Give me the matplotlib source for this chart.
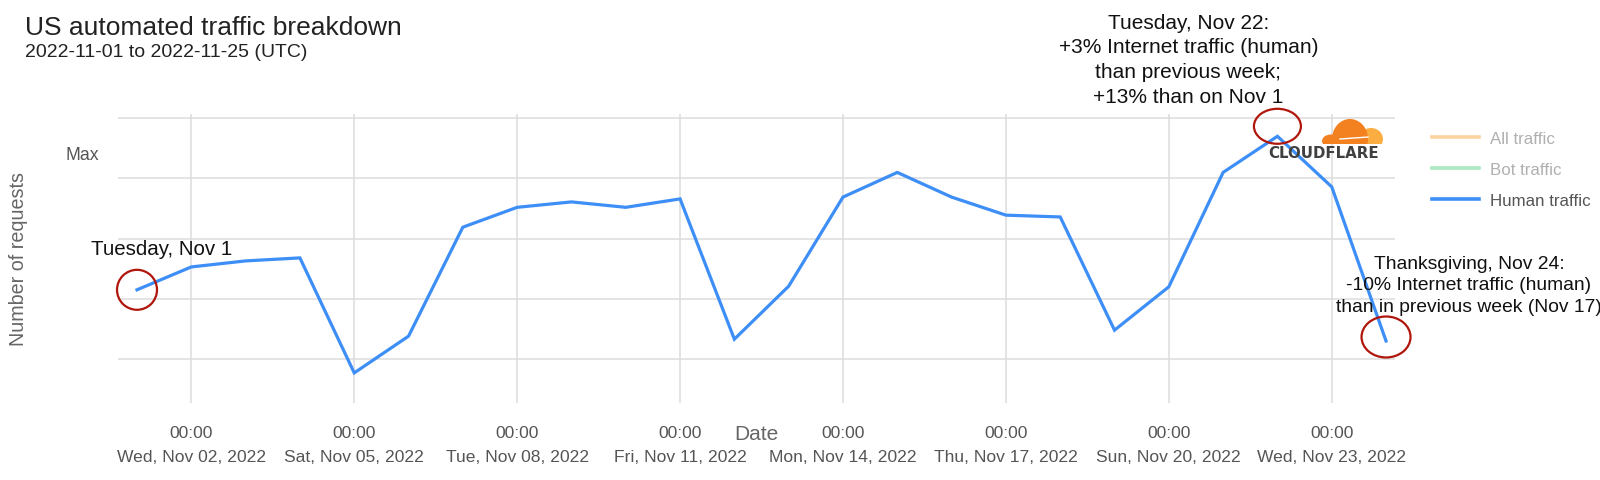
import matplotlib
matplotlib.use("Agg")
import matplotlib.pyplot as plt
import matplotlib.dates as mdates
from matplotlib.lines import Line2D
from matplotlib.patches import Ellipse, Rectangle
import numpy as np

plt.rcParams['font.family'] = ['Liberation Sans', 'DejaVu Sans']

# daily human traffic, relative units (chart has no scale)
days = np.arange('2022-11-01', '2022-11-25', dtype='datetime64[D]')
human = [2.15, 2.53, 2.63, 2.68, 0.77, 1.38, 3.19, 3.52, 3.61, 3.52, 3.66, 1.33,
         2.21, 3.69, 4.10, 3.69, 3.39, 3.36, 1.48, 2.20, 4.10, 4.70, 3.86, 1.30]

legend_labels = ['All traffic', 'Bot traffic', 'Human traffic']
legend_colors = ['#fdd29e', '#abe7c0', '#3d8ef6']
legend_text_colors = ['#b0b0b0', '#b0b0b0', '#555555']

note_days = ['2022-11-01', '2022-11-22', '2022-11-24']
note_texts = ['Tuesday, Nov 1',
              'Tuesday, Nov 22:\n+3% Internet traffic (human)\nthan previous week;\n+13% than on Nov 1',
              'Thanksgiving, Nov 24:\n-10% Internet traffic (human)\nthan in previous week (Nov 17)']

fig = plt.figure(figsize=(16, 4.81), dpi=100)
ax = fig.add_axes([118 / 1600, 77 / 481, 1277 / 1600, 289 / 481])

x = mdates.date2num(days)
ax.plot(x, human, color=legend_colors[2], lw=2.3, solid_joinstyle='miter', zorder=3)

# axes look
ax.set_xlim(x[0] - 0.35, x[-1] + 0.165)
ax.set_ylim(0.27, 5.07)
ax.set_yticks([1, 2, 3, 4, 5])
ax.set_yticklabels([])

# time on the major ticks, date on minor ticks at the same spots (second line)
tick_days = mdates.DayLocator(bymonthday=range(2, 31, 3))
ax.xaxis.set_major_locator(tick_days)
ax.xaxis.set_major_formatter(mdates.DateFormatter('%H:%M'))
ax.xaxis.set_minor_locator(mdates.DayLocator(bymonthday=range(2, 31, 3)))
ax.xaxis.set_minor_formatter(mdates.DateFormatter('%a, %b %d, %Y'))
ax.xaxis.remove_overlapping_locs = False
ax.tick_params(which='both', length=0, labelsize=12.6, labelcolor='#555555')
ax.tick_params(axis='x', which='major', pad=15.5)
ax.tick_params(axis='x', which='minor', pad=32.8)
ax.grid(True, which='major', color='#dddddd', lw=1.1)
for s in ax.spines.values():
    s.set_visible(False)

ax.set_xlabel('Date', fontsize=15, color='#666666')
ax.xaxis.label.set_va('center')
ax.xaxis.set_label_coords(0.5, -0.107)
ax.set_ylabel('Number of requests', fontsize=14.2, color='#666666')
ax.yaxis.set_label_coords(-0.0705, 0.5)
ax.text(-0.015, 4.40, 'Max', transform=ax.get_yaxis_transform(), ha='right',
        va='center', fontsize=12.7, color='#555555')

# title
fig.text(25 / 1600, 1 - 35 / 481, 'US automated traffic breakdown', fontsize=19,
         color='#222222', va='baseline')
fig.text(25 / 1600, 1 - 57 / 481, '2022-11-01 to 2022-11-25 (UTC)', fontsize=14,
         color='#222222', va='baseline')

# annotations with red rings
val = dict(zip([str(d) for d in days], human))
offsets = [(-46, 41, 'left'), (-89, 77, 'center'), (83, 56, 'center')]
sizes = [(40, 40, 0), (47, 35, 10), (49, 41, 4)]
font_sizes = [14.8, 15, 13.9]
for d, txt, (dx, dy, ha), (w, h, up), fs in zip(note_days, note_texts, offsets, sizes, font_sizes):
    xd = mdates.date2num(np.datetime64(d))
    yd = val[d]
    ax.annotate(txt, xy=(xd, yd), xytext=(dx, dy), textcoords='offset pixels',
                ha=ha, va='center', fontsize=fs, color='#111111', linespacing=1.38,
                annotation_clip=False, zorder=5)
    ax.add_patch(Ellipse((xd, yd + up / 60.25), w / 54.33, h / 60.25, fill=False,
                         ec='#b0160c', lw=1.6, clip_on=False, zorder=4))

# legend
handles = [Line2D([], [], color=c, lw=2.6) for c in legend_colors]
leg = fig.legend(handles, legend_labels, loc='upper left',
                 bbox_to_anchor=(1432 / 1600, 1 - 132 / 481), frameon=False,
                 fontsize=12.2, handlelength=2.8, handletextpad=0.6,
                 labelspacing=0.95, borderpad=0, borderaxespad=0)
for t, c in zip(leg.get_texts(), legend_text_colors):
    t.set_color(c)

# cloudflare logo
lg = fig.add_axes([1262 / 1600, 1 - 162 / 481, 126 / 1600, 47 / 481])
lg.set_xlim(1262, 1388)
lg.set_ylim(162, 115)
lg.axis('off')
lg.patch.set_alpha(0)
clip = Rectangle((1300, 100), 100, 45, transform=lg.transData)
for (cx, cy, w, h, c) in [(1371, 140, 24, 22, '#fbad41'), (1350, 140, 36, 40, '#f48120'),
                          (1331, 142, 18, 13, '#f48120')]:
    e = Ellipse((cx, cy), w, h, color=c, lw=0)
    lg.add_patch(e)
    e.set_clip_path(clip)
lg.plot([1340, 1368], [140, 138], color='white', lw=1.0)
lg.text(1324, 153, 'CLOUDFLARE', ha='center', va='center', fontsize=10.8,
        fontweight='bold', color='#404041', family='DejaVu Sans')

fig.savefig('out.png', dpi=100)
